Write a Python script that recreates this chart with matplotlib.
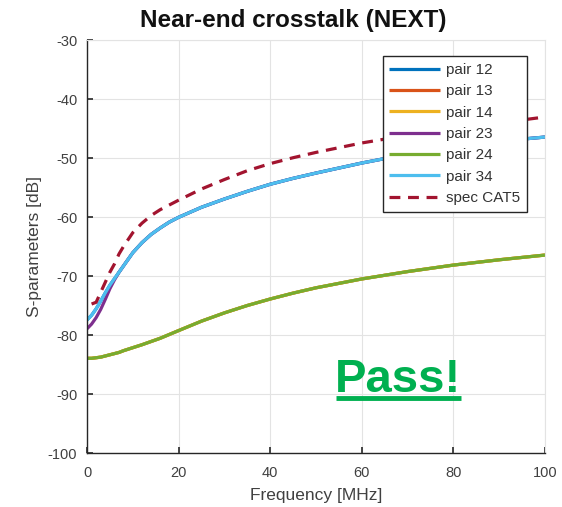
import matplotlib
matplotlib.use("Agg")
import matplotlib.pyplot as plt

plt.rcParams['font.family'] = ['Liberation Sans', 'DejaVu Sans']
plt.rcParams['axes.unicode_minus'] = False

freq = [0, 1, 2, 3, 4, 5, 6, 7, 8, 10, 12, 14, 16, 18, 20, 25, 30, 35, 40, 45,
        50, 60, 70, 80, 90, 100]

upper = [-77.4, -76.6, -75.5, -74.2, -72.8, -71.5, -70.4, -69.3, -68.2, -66.0,
         -64.3, -62.9, -61.8, -60.8, -60.0, -58.3, -56.9, -55.6, -54.4, -53.4,
         -52.5, -50.8, -49.3, -48.0, -47.1, -46.4]

pair23 = [-78.9, -78.1, -77.0, -75.6, -73.9, -72.1, -70.6, -69.3, -68.2, -66.0,
          -64.3, -62.9, -61.8, -60.8, -60.0, -58.3, -56.9, -55.6, -54.4, -53.4,
          -52.5, -50.8, -49.3, -48.0, -47.1, -46.4]

lower = [-83.9, -83.9, -83.8, -83.7, -83.5, -83.3, -83.1, -82.9, -82.6, -82.1,
         -81.6, -81.05, -80.5, -79.85, -79.2, -77.6, -76.2, -74.95, -73.85, -72.85,
         -71.95, -70.45, -69.2, -68.1, -67.2, -66.4]

spec_freq = [1, 2, 3, 4, 5, 6, 7, 8, 10, 12, 14, 16, 18, 20, 25, 30, 35, 40, 45,
             50, 60, 70, 80, 90, 100]
spec = [-74.7, -74.4, -72.7, -71.0, -69.3, -67.9, -66.2, -64.9, -62.6, -61.0,
        -59.7, -58.7, -57.9, -57.1, -55.2, -53.6, -52.1, -50.9, -49.9, -49.0,
        -47.4, -46.1, -45.0, -44.0, -43.0]

pairs = ["pair 12", "pair 13", "pair 14", "pair 23", "pair 24", "pair 34"]
series = [upper, lower, lower, pair23, lower, upper]
colors = ["#0072BD", "#D95319", "#EDB120", "#7E2F8E", "#77AC30", "#4DBEEE"]

fig = plt.figure(figsize=(5.62, 5.07), dpi=100)
ax = fig.add_axes([87/562, 1-453.3/507, 458/562, 413/507])

for name, vals, c in zip(pairs, series, colors):
    ax.plot(freq, vals, color=c, lw=2.3, label=name, solid_capstyle='butt')
ax.plot(spec_freq, spec, color="#A2142F", lw=2.3, dashes=(3.4, 2.4), label="spec CAT5")

ax.set_xlim(0, 100)
ax.set_ylim(-100, -30)
ax.set_xticks(range(0, 101, 20))
ax.set_yticks(range(-100, -29, 10))
ax.grid(True, color="#E3E3E3", lw=0.8)
ax.set_axisbelow(True)
for s in ['top', 'right']:
    ax.spines[s].set_color("#E3E3E3")
    ax.spines[s].set_linewidth(0.8)
for s in ['left', 'bottom']:
    ax.spines[s].set_color("#262626")
    ax.spines[s].set_linewidth(1.0)
ax.tick_params(direction='in', length=4, width=1.2, colors="#262626",
               labelsize=10.5, labelcolor="#404040", top=False, right=False)
ax.tick_params(axis='x', pad=9)
ax.tick_params(axis='y', pad=7)

ax.set_xlabel("Frequency [MHz]", fontsize=12.5, color="#404040", labelpad=6)
ax.set_ylabel("S-parameters [dB]", fontsize=12.5, color="#404040", labelpad=4)
fig.text(293/562, 1-20/507, "Near-end crosstalk (NEXT)", fontsize=17.5, fontweight='bold',
         ha='center', va='center', color="#111111")

leg = ax.legend(loc='upper right', bbox_to_anchor=(527/562, 1-56/507),
                bbox_transform=fig.transFigure, fancybox=False, framealpha=1,
                edgecolor="#262626", fontsize=11, handlelength=3.3,
                handletextpad=0.4, labelspacing=0.48, borderpad=0.45,
                borderaxespad=0)
leg.get_frame().set_linewidth(1.0)
for t in leg.get_texts():
    t.set_color("#333333")

ax.text(68, -89.6, "Pass!", fontsize=34, fontweight='bold', color="#00B050",
        ha='center', va='baseline')
ax.plot([54.4, 81.7], [-90.6, -90.6], color="#00B050", lw=3.5, solid_capstyle='butt',
        clip_on=False)

fig.savefig("out.png", dpi=100)
